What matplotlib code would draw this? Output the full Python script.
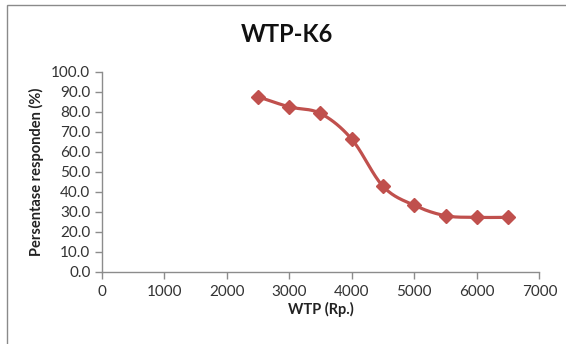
import numpy as np
import matplotlib
matplotlib.use("Agg")
import matplotlib.pyplot as plt
from matplotlib.patches import Rectangle

plt.rcParams['font.family'] = ['Lato', 'DejaVu Sans']

# Data
wtp = [2500, 3000, 3500, 4000, 4500, 5000, 5500, 6000, 6500]
persen = [87.5, 82.4, 79.1, 66.2, 42.6, 33.1, 27.9, 27.1, 27.1]
x_ticks = [0, 1000, 2000, 3000, 4000, 5000, 6000, 7000]
y_ticks = [0, 10, 20, 30, 40, 50, 60, 70, 80, 90, 100]

title = "WTP-K6"
xlabel = "WTP (Rp.)"
ylabel = "Persentase responden (%)"

line_color = "#C0504D"
axis_color = "#8C8C8C"
text_color = "#333333"


def smooth(xs, ys, n=30):
    xs = np.asarray(xs, float)
    ys = np.asarray(ys, float)
    P = np.column_stack([xs, ys])
    Pp = np.vstack([P[0], P, P[-1]])
    out = []
    for i in range(1, len(Pp) - 2):
        p0, p1, p2, p3 = Pp[i - 1], Pp[i], Pp[i + 1], Pp[i + 2]
        c1 = p1 + (p2 - p0) / 6.0
        c2 = p2 - (p3 - p1) / 6.0
        t = np.linspace(0, 1, n)[:, None]
        seg = ((1 - t) ** 3) * p1 + 3 * ((1 - t) ** 2) * t * c1 + 3 * (1 - t) * t ** 2 * c2 + t ** 3 * p2
        out.append(seg if i == 1 else seg[1:])
    s = np.vstack(out)
    return s[:, 0], s[:, 1]


fig = plt.figure(figsize=(5.66, 3.44), dpi=100)
fig.patch.set_facecolor("white")

# outer chart border
fig.patches.append(Rectangle((7 / 566, -0.01), 1.02, 1 - 5 / 344 + 0.01,
                             transform=fig.transFigure, fill=False,
                             edgecolor="#8A8A8A", linewidth=1.0))

ax = fig.add_axes([101.5 / 566, 1 - 271.5 / 344, (539.5 - 101.5) / 566, (271.5 - 71.7) / 344])

sx, sy = smooth(wtp, persen)
ax.plot(sx, sy, color=line_color, linewidth=2.3, solid_capstyle="round", zorder=3)
ax.plot(wtp, persen, linestyle="none", marker="D", markersize=7,
        color=line_color, zorder=4)

ax.set_xlim(0, 7000)
ax.set_ylim(0, 100)
ax.set_xticks(x_ticks)
ax.set_yticks(y_ticks)
ax.set_xticklabels([str(v) for v in x_ticks])
ax.set_yticklabels([f"{v:.1f}" for v in y_ticks])

for s in ["top", "right"]:
    ax.spines[s].set_visible(False)
for s in ["left", "bottom"]:
    ax.spines[s].set_color(axis_color)
    ax.spines[s].set_linewidth(1.0)

ax.tick_params(axis="both", direction="out", length=5, width=1.0,
               color=axis_color, labelsize=11, labelcolor=text_color)
ax.tick_params(axis="x", pad=5)
ax.tick_params(axis="y", pad=3)

ax.set_xlabel(xlabel, fontsize=10.5, fontweight="bold", color="#222222", labelpad=2)
ax.set_ylabel(ylabel, fontsize=10.5, fontweight="bold", color="#222222", labelpad=5)

fig.text(287 / 566, 1 - 34 / 344, title, ha="center", va="center",
         fontsize=17, fontweight="bold", color="#111111")

fig.savefig("out.png", dpi=100, facecolor="white")
